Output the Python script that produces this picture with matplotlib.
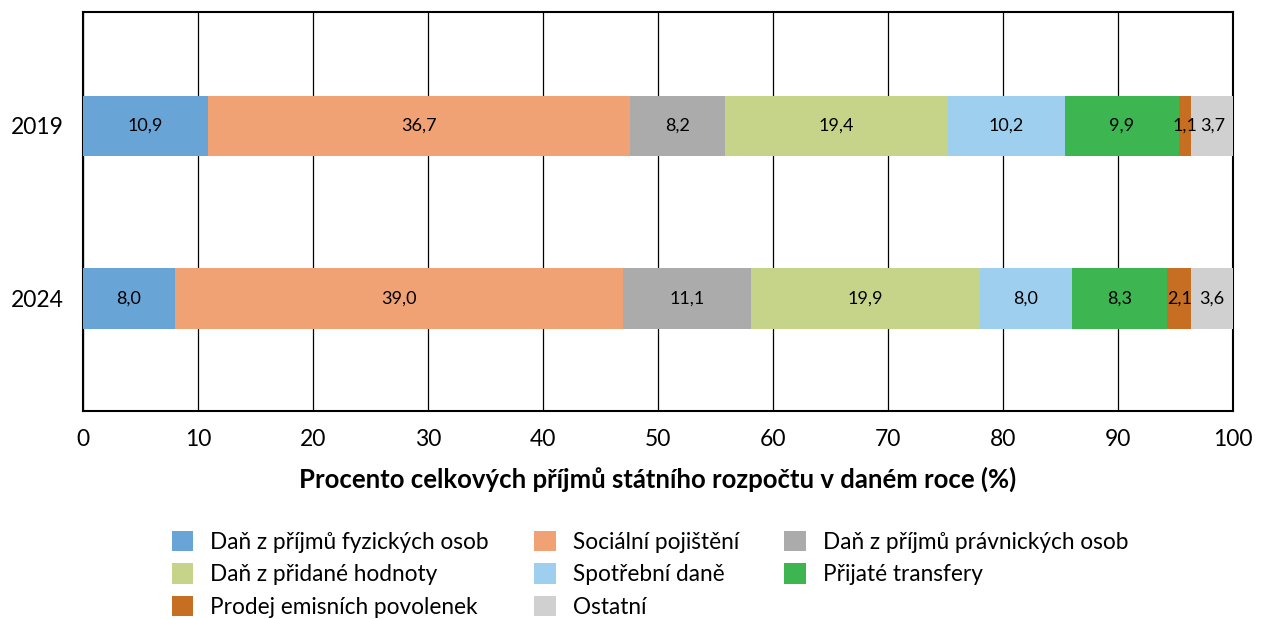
import numpy as np
import matplotlib.pyplot as plt

plt.rcParams['font.family'] = ['Lato', 'DejaVu Sans']

years = ["2019", "2024"]
categories = [
    "Daň z příjmů fyzických osob",
    "Sociální pojištění",
    "Daň z příjmů právnických osob",
    "Daň z přidané hodnoty",
    "Spotřební daně",
    "Přijaté transfery",
    "Prodej emisních povolenek",
    "Ostatní",
]
values_2019 = [10.9, 36.7, 8.2, 19.4, 10.2, 9.9, 1.1, 3.7]
values_2024 = [8.0, 39.0, 11.1, 19.9, 8.0, 8.3, 2.1, 3.6]
colors = ["#68A5D6", "#F0A275", "#ABABAB", "#C6D48A", "#9ECFEF",
          "#3DB551", "#C66F22", "#D0D0D0"]

data = np.array([values_2019, values_2024])

fig = plt.figure(figsize=(12.63, 6.19), dpi=100)
ax = fig.add_axes([0.0657, 0.336, 0.9103, 0.645])

y = np.arange(len(years))
left = np.zeros(len(years))
handles = []
for i, cat in enumerate(categories):
    bars = ax.barh(y, data[:, i], left=left, height=0.35, color=colors[i],
                   label=cat, zorder=3)
    handles.append(bars)
    for j in range(len(years)):
        ax.text(left[j] + data[j, i] / 2, y[j],
                f"{data[j, i]:.1f}".replace(".", ","),
                ha="center", va="center", fontsize=13, zorder=4)
    left += data[:, i]

ax.set_xlim(0, 100)
ax.set_ylim(1.65, -0.66)
ax.set_xticks(np.arange(0, 101, 10))
ax.set_yticks(y)
ax.set_yticklabels(years)
ax.tick_params(axis="both", length=0, labelsize=16.5, pad=14)
ax.tick_params(axis="x", pad=13)
ax.grid(axis="x", color="black", linewidth=0.9, zorder=0)
for s in ax.spines.values():
    s.set_linewidth(1.5)
    s.set_color("black")

ax.set_xlabel("Procento celkových příjmů státního rozpočtu v daném roce (%)",
              fontsize=18.5, fontweight="bold", labelpad=12)

order = [0, 3, 6, 1, 4, 7, 2, 5]
fig.legend([handles[k] for k in order], [categories[k] for k in order],
           loc="lower left", bbox_to_anchor=(0.12, -0.031), ncol=3,
           frameon=False, fontsize=16.3, handlelength=0.95, handleheight=1.0,
           handletextpad=0.75, columnspacing=2.0, labelspacing=0.47)

fig.savefig("out.png", dpi=100)
